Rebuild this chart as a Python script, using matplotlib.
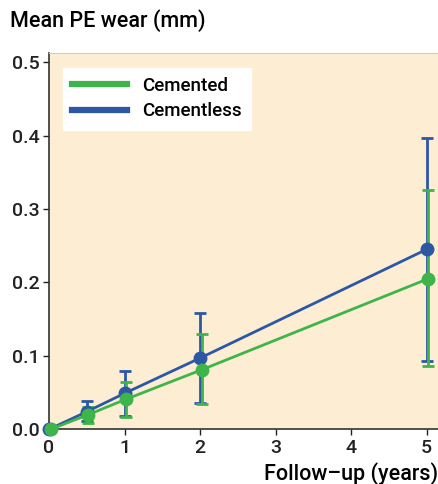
import numpy as np
import matplotlib.pyplot as plt

plt.rcParams['font.family'] = ['Roboto', 'DejaVu Sans']

years = [0, 0.5, 1, 2, 5]

cemented = [0.0, 0.020, 0.041, 0.081, 0.205]
cemented_lo = [0.0, 0.008, 0.017, 0.034, 0.086]
cemented_hi = [0.0, 0.031, 0.064, 0.130, 0.326]

cementless = [0.0, 0.024, 0.049, 0.097, 0.245]
cementless_lo = [0.0, 0.011, 0.018, 0.036, 0.093]
cementless_hi = [0.0, 0.039, 0.079, 0.158, 0.396]

green = '#3db54a'
blue = '#2c57a5'
fw = 'medium'

fig = plt.figure(figsize=(4.38, 4.84), dpi=100)
ax = fig.add_axes([0.112, 0.113, 0.888, 0.777])
ax.set_facecolor('#fdeed3')

def draw(y, lo, hi, color, label, dx):
    x = np.array(years) + dx
    y = np.array(y)
    err = [y - np.array(lo), np.array(hi) - y]
    ax.errorbar(x[1:], y[1:], yerr=[e[1:] for e in err], fmt='none', ecolor=color,
                elinewidth=2, capsize=4, capthick=2, zorder=3)
    ax.plot(x, y, '-', color=color, lw=2, zorder=4)
    ax.plot(x, y, 'o', color=color, ms=9, zorder=5, clip_on=False)
    ax.plot([], [], color=color, lw=4.5, label=label)

draw(cementless, cementless_lo, cementless_hi, blue, 'Cementless', 0.0)
draw(cemented, cemented_lo, cemented_hi, green, 'Cemented', 0.02)

ax.set_xlim(0, 5.15)
ax.set_ylim(0, 0.512)
ax.set_xticks([0, 1, 2, 3, 4, 5])
ax.set_yticks([0.0, 0.1, 0.2, 0.3, 0.4, 0.5])
ax.set_yticklabels(['0.0', '0.1', '0.2', '0.3', '0.4', '0.5'])
ax.tick_params(labelsize=14, length=4, width=1, colors='#222222', pad=3)
for t in ax.get_xticklabels() + ax.get_yticklabels():
    t.set_fontweight(fw)

for s in ['top', 'right']:
    ax.spines[s].set_color('#cccccc')
    ax.spines[s].set_linewidth(0.8)
for s in ['left', 'bottom']:
    ax.spines[s].set_color('#333333')
    ax.spines[s].set_linewidth(1.2)

handles, labels = ax.get_legend_handles_labels()
order = [labels.index('Cemented'), labels.index('Cementless')]
leg = ax.legend([handles[i] for i in order], [labels[i] for i in order],
                loc='upper left', bbox_to_anchor=(0.036, 0.962), borderaxespad=0,
                prop={'size': 13.5, 'weight': fw},
                frameon=True, fancybox=False, edgecolor='white', framealpha=1,
                handlelength=2.9, borderpad=0.5, labelspacing=0.4, handletextpad=0.8)

fig.text(0.023, 0.958, 'Mean PE wear (mm)', fontsize=15.5, fontweight=fw, ha='left', va='center')
fig.text(1.0, 0.022, 'Follow\u2013up (years)', fontsize=15.5, fontweight=fw, ha='right', va='center')

fig.savefig('out.png', dpi=100)
